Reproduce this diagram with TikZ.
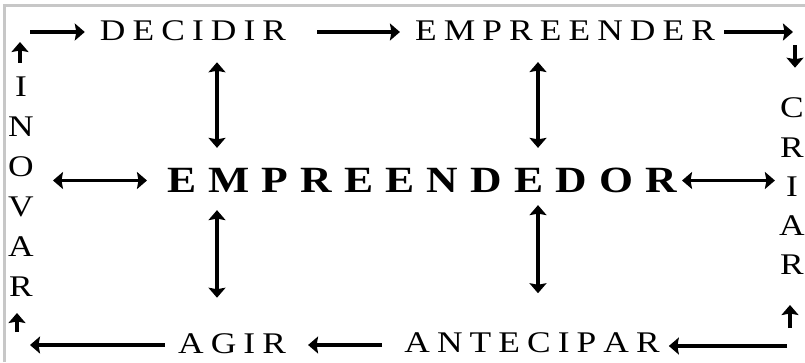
\documentclass[tikz,border=0pt]{standalone}
\usepackage{fontspec}
\setmainfont{Liberation Serif}
\usepackage{graphicx}
\usetikzlibrary{arrows.meta}
\newcommand\gp{\kern6pt}
\newcommand\gb{\kern10.3pt}
\newcommand\wide[1]{\scalebox{1.18}[1]{#1}}
\begin{document}
\begin{tikzpicture}[x=1pt,y=-1pt,
  lbl/.style={inner sep=0pt, font=\fontsize{30}{30}\selectfont},
  big/.style={inner sep=0pt, font=\fontsize{37}{37}\selectfont\bfseries},
  tip/.tip={Stealth[length=10pt,width=17pt,inset=1.5pt]},
  arr/.style={line width=3.6pt, -tip},
  dbl/.style={line width=3.6pt, tip-tip},
]
\useasboundingbox (0,0) rectangle (805,362);
\fill[white] (0,0) rectangle (805,362);
\draw[black!22, line width=3pt] (4,362) -- (4,5) -- (805,5);

\node[lbl] (decidir) at (193,31) {\wide{D\gp E\gp C\gp I\gp D\gp I\gp R}};
\node[lbl] (empreender) at (565,31) {\wide{E\gp M\gp P\gp R\gp E\gp E\gp N\gp D\gp E\gp R}};
\node[big] (emp) at (422,180.5) {\wide{E\gb M\gb P\gb R\gb E\gb E\gb N\gb D\gb E\gb D\gb O\gb R}};
\node[lbl] (antecipar) at (532,342.5) {\wide{A\gp N\gp T\gp E\gp C\gp I\gp P\gp A\gp R}};
\node[lbl] (agir) at (232,344) {\wide{A\gp G\gp I\gp R}};
\foreach \l [count=\i] in {I,N,O,V,A,R}
  \node[lbl] (in\i) at (21,{47+40*\i}) {\wide{\l}};
\foreach \l [count=\i] in {C,R,I,A,R}
  \node[lbl] (cr\i) at (792,{68.75+39.25*\i}) {\wide{\l}};

\coordinate (tlc) at (20,42);
\coordinate (tl) at (30,32);
\coordinate (tr) at (793,32);
\coordinate (trd) at (795,45);
\coordinate (brc) at (790,328);
\coordinate (br) at (787,346);
\coordinate (bl) at (30,345);
\coordinate (blc) at (17,332);
\coordinate (vl) at (217,0);
\coordinate (vr) at (538,0);

\draw[arr, shorten <=14pt] (tlc |- in1.north) -- (tlc);
\draw[arr, shorten >=15pt] (tl) -- (tl -| decidir.west);
\draw[arr, shorten <=31pt, shorten >=15pt] (decidir.east |- tl) -- (empreender.west |- tl);
\draw[arr, shorten <=9pt] (empreender.east |- tr) -- (tr);
\draw[arr, shorten >=30pt] (trd) -- (trd |- cr1.north);
\draw[arr, shorten >=30pt] (brc) -- (brc |- cr5.south);
\draw[arr, shorten >=9pt] (br) -- (br -| antecipar.east);
\draw[arr, shorten <=22pt, shorten >=22pt] (antecipar.west |- bl) -- (agir.east |- bl);
\draw[arr, shorten <=13pt] (agir.west |- bl) -- (bl);
\draw[arr, shorten >=16pt] (blc) -- (blc |- in6.south);

\draw[dbl, shorten <=19pt, shorten >=20pt] (in3.east |- emp.west) -- (emp.west);
\draw[dbl, shorten <=5pt, shorten >=11pt] (emp.east) -- (cr3.west |- emp.east);
\draw[dbl, shorten <=21pt, shorten >=20pt] (vl |- decidir.south) -- (vl |- emp.north);
\draw[dbl, shorten <=17pt, shorten >=36pt] (vl |- emp.south) -- (vl |- agir.north);
\draw[dbl, shorten <=21pt, shorten >=20pt] (vr |- empreender.south) -- (vr |- emp.north);
\draw[dbl, shorten <=12pt, shorten >=39pt] (vr |- emp.south) -- (vr |- antecipar.north);
\end{tikzpicture}
\end{document}
